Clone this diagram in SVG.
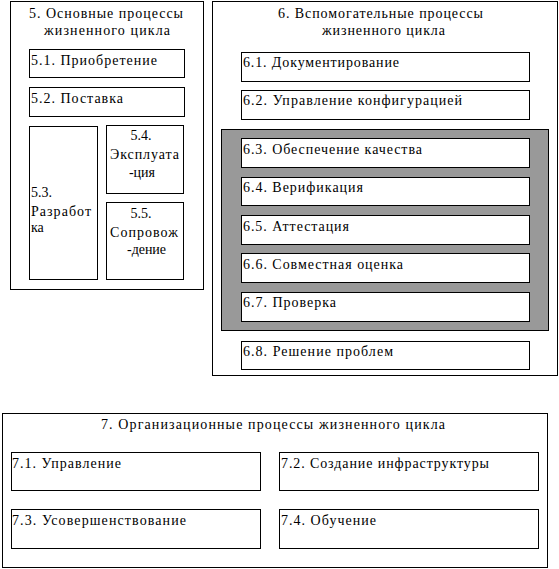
<svg xmlns="http://www.w3.org/2000/svg" width="559" height="569" viewBox="0 0 559 569">
<style>
rect{fill:#fff;stroke:#000;stroke-width:1}
rect.g{fill:#999}
text{font-family:"Liberation Serif","DejaVu Serif",serif;font-size:14px;fill:#000}
.m{text-anchor:middle}
</style>
<rect x="0" y="0" width="559" height="569" style="stroke:none"/>
<g id="g5">
<rect x="10.5" y="1.5" width="193" height="288"/>
<text class="m" x="106" y="18" textLength="154" lengthAdjust="spacing">5. Основные процессы</text>
<text class="m" x="107" y="35" textLength="126" lengthAdjust="spacing">жизненного цикла</text>
</g>
<g id="n51"><rect x="29.5" y="49.5" width="155" height="28"/><text x="31" y="65" textLength="126" lengthAdjust="spacing">5.1. Приобретение</text></g>
<g id="n52"><rect x="29.5" y="87.5" width="155" height="29"/><text x="31" y="103" textLength="92" lengthAdjust="spacing">5.2. Поставка</text></g>
<g id="n53"><rect x="29.5" y="126.5" width="68" height="153"/>
<text x="31" y="197">5.3.</text>
<text x="31" y="216" textLength="60" lengthAdjust="spacing">Разработ</text>
<text x="31" y="232">ка</text></g>
<g id="n54"><rect x="106.5" y="125.5" width="77" height="68"/>
<text class="m" x="141" y="140">5.4.</text>
<text class="m" x="144.5" y="159" textLength="69" lengthAdjust="spacing">Эксплуата</text>
<text class="m" x="142" y="177">-ция</text></g>
<g id="n55"><rect x="106.5" y="202.5" width="77" height="77"/>
<text class="m" x="141" y="218">5.5.</text>
<text class="m" x="144" y="237" textLength="68" lengthAdjust="spacing">Сопровож</text>
<text class="m" x="146.5" y="254" textLength="39" lengthAdjust="spacing">-дение</text></g>

<g id="g6">
<rect x="212.5" y="1.5" width="345" height="374"/>
<text class="m" x="380.5" y="18" textLength="205" lengthAdjust="spacing">6. Вспомогательные процессы</text>
<text class="m" x="383.5" y="35" textLength="123" lengthAdjust="spacing">жизненного цикла</text>
</g>
<g id="n61"><rect x="241.5" y="52.5" width="288" height="29"/><text x="243" y="67" textLength="156" lengthAdjust="spacing">6.1. Документирование</text></g>
<g id="n62"><rect x="241.5" y="90.5" width="288" height="29"/><text x="243" y="105" textLength="219" lengthAdjust="spacing">6.2. Управление конфигурацией</text></g>
<g id="grp"><rect class="g" x="221.5" y="129.5" width="327" height="201"/></g>
<g id="n63"><rect x="241.5" y="138.5" width="288" height="29"/><text x="243" y="154" textLength="179" lengthAdjust="spacing">6.3. Обеспечение качества</text></g>
<g id="n64"><rect x="241.5" y="177.5" width="288" height="28"/><text x="243" y="192" textLength="120" lengthAdjust="spacing">6.4. Верификация</text></g>
<g id="n65"><rect x="241.5" y="215.5" width="288" height="29"/><text x="243" y="231" textLength="106" lengthAdjust="spacing">6.5. Аттестация</text></g>
<g id="n66"><rect x="241.5" y="253.5" width="288" height="29"/><text x="243" y="269" textLength="160" lengthAdjust="spacing">6.6. Совместная оценка</text></g>
<g id="n67"><rect x="241.5" y="292.5" width="288" height="29"/><text x="243" y="307" textLength="93" lengthAdjust="spacing">6.7. Проверка</text></g>
<g id="n68"><rect x="241.5" y="341.5" width="288" height="28"/><text x="243" y="356" textLength="150" lengthAdjust="spacing">6.8. Решение проблем</text></g>

<g id="g7">
<rect x="2.5" y="413.5" width="545" height="154"/>
<text x="101" y="429" textLength="344" lengthAdjust="spacing">7. Организационные процессы жизненного цикла</text>
</g>
<g id="n71"><rect x="11.5" y="452.5" width="249" height="38"/><text x="12" y="468" textLength="109" lengthAdjust="spacing">7.1. Управление</text></g>
<g id="n72"><rect x="279.5" y="452.5" width="259" height="38"/><text x="281" y="468" textLength="208" lengthAdjust="spacing">7.2. Создание инфраструктуры</text></g>
<g id="n73"><rect x="11.5" y="509.5" width="249" height="39"/><text x="12" y="525" textLength="174" lengthAdjust="spacing">7.3. Усовершенствование</text></g>
<g id="n74"><rect x="279.5" y="509.5" width="259" height="39"/><text x="281" y="525" textLength="95" lengthAdjust="spacing">7.4. Обучение</text></g>
<g id="connectors"></g>
</svg>
